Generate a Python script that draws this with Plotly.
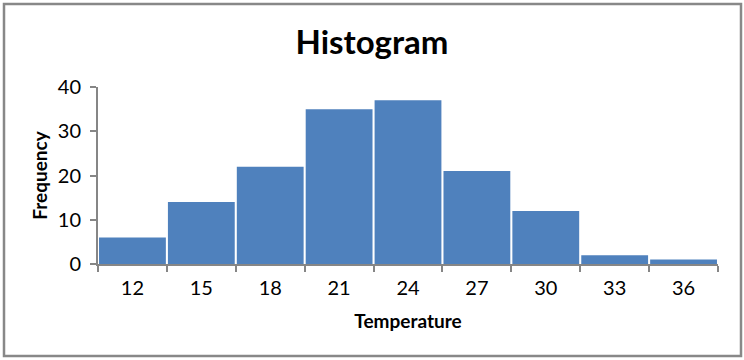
import plotly.graph_objects as go

categories = ["12", "15", "18", "21", "24", "27", "30", "33", "36"]
frequency = [6, 14, 22, 35, 37, 21, 12, 2, 1]
y_ticks = [0, 10, 20, 30, 40]

W, H = 744, 360
L, R, T, B = 98, 26, 87, 96
pw, ph = W - L - R, H - T - B

def px(x):
    return (x - L) / pw

def py(y):
    return (H - B - y) / ph

FONT = "Lato"
GRAY = "#868686"

fig = go.Figure(go.Bar(
    x=categories, y=frequency,
    marker=dict(color="#4F81BD", line=dict(width=0)),
))

shapes = [dict(type="rect", xref="paper", yref="paper",
               x0=px(4), x1=px(741), y0=py(356), y1=py(4),
               line=dict(color="#888888", width=2.5), fillcolor="rgba(0,0,0,0)", layer="below")]

fig.update_layout(
    width=W, height=H,
    margin=dict(l=L, r=R, t=T, b=B),
    paper_bgcolor="white", plot_bgcolor="white",
    bargap=0.03,
    showlegend=False,
    title=dict(text="<b>Histogram</b>", x=0.5, xanchor="center", xref="container",
               y=1 - 42 / H, yanchor="middle", yref="container",
               font=dict(family=FONT, size=33, color="black")),
    font=dict(family=FONT, color="black"),
    xaxis=dict(type="category", showline=True, linecolor=GRAY, linewidth=2,
               ticks="outside", tickson="boundaries", ticklen=6, tickwidth=2, tickcolor=GRAY,
               tickfont=dict(size=20, family=FONT), showgrid=False,
               ticklabelstandoff=5,
               title=dict(text="<b>Temperature</b>", font=dict(size=19, family=FONT), standoff=17)),
    yaxis=dict(range=[0, 40], tickvals=y_ticks, showline=True, linecolor=GRAY, linewidth=2,
               ticks="outside", ticklen=6, tickwidth=2, tickcolor=GRAY,
               tickfont=dict(size=20, family=FONT), showgrid=False, zeroline=False,
               ticklabelstandoff=5,
               title=dict(text="<b>Frequency</b>", font=dict(size=19, family=FONT), standoff=5)),
    shapes=shapes,
)

fig.write_html("out.html", config={"displayModeBar": False},
               post_script="document.body.style.margin='0';document.body.style.overflow='hidden';")
